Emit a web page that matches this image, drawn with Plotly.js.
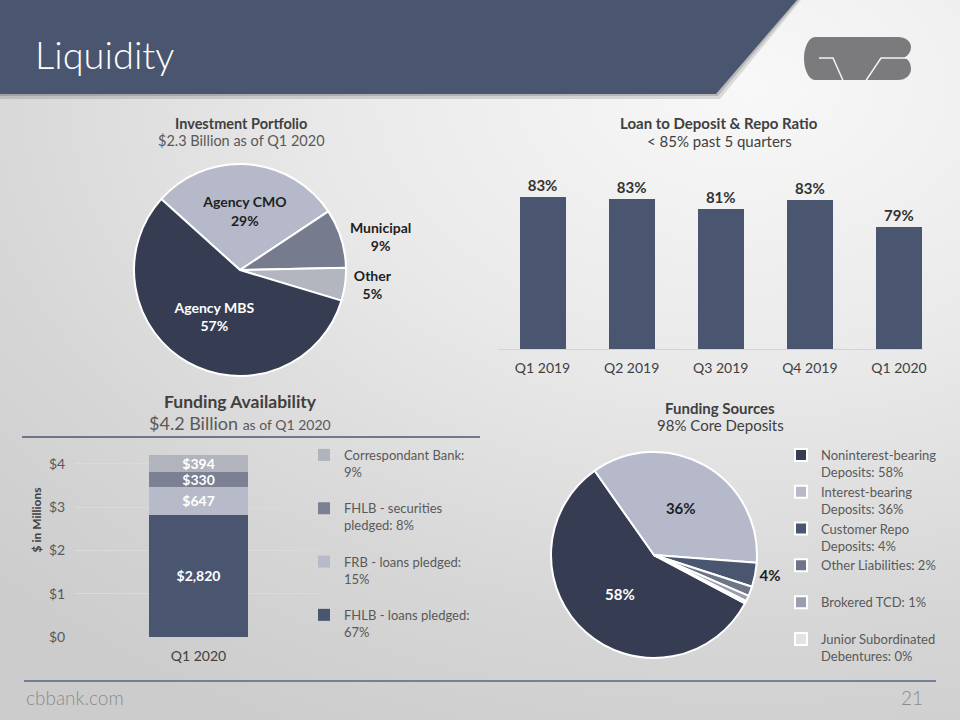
<!DOCTYPE html>
<html>
<head>
<meta charset="utf-8">
<script src="https://cdn.plot.ly/plotly-3.0.1.min.js"></script>
<style>
  html, body { margin: 0; padding: 0; }
  #chart {
    width: 960px; height: 720px;
    background: radial-gradient(ellipse 110% 100% at 78% 12%, #f8f8f8 0%, #e9e9e9 40%, #d6d6d6 75%, #cccccc 100%);
  }
</style>
</head>
<body>
<div id="chart"></div>
<script>
// ---------------- data ----------------
const invLabels = ["Agency CMO", "Municipal", "Other", "Agency MBS"];
const invValues = [29, 9, 5, 57];

const ratioQuarters = ["Q1 2019", "Q2 2019", "Q3 2019", "Q4 2019", "Q1 2020"];
const ratioValues = [83.0, 82.7, 81.4, 82.6, 79.0];

const fundCategory = ["Q1 2020"];
const fundLegendNames = ["FHLB - loans pledged:", "FRB - loans pledged:", "FHLB - securities<br>pledged:", "Correspondant Bank:"];
const fundValues = [2820, 647, 330, 394];
const fundTickVals = [0, 1000, 2000, 3000, 4000];
const fundTickText = ["$0", "$1", "$2", "$3", "$4"];

const srcNames = ["Noninterest-bearing<br>Deposits", "Interest-bearing<br>Deposits", "Customer Repo<br>Deposits", "Other Liabilities", "Brokered TCD", "Junior Subordinated<br>Debentures"];
const srcPct = [58, 36, 4, 2, 1, 0];
const srcValues = [57.8, 36.2, 3.8, 1.5, 0.9, 0.4];

// ---------------- styles ----------------
const FONT = "Lato, 'Open Sans', sans-serif";
const W = 960, H = 720;
const X = p => p / W;
const Y = p => 1 - p / H;
const path = pts => pts.map(s => s.replace(/(-?[\d.]+),(-?[\d.]+)/g, (m, a, b) => X(+a).toFixed(5) + "," + Y(+b).toFixed(5))).join(" ");

const invColors = ["#b6b9c9", "#767c8e", "#b3b6bf", "#363d52"];
const fundColors = ["#4a5670", "#b7bac9", "#7b8093", "#b1b4bd"];
const srcColors = ["#363d52", "#b6b9c9", "#4a5670", "#6f7588", "#9a9eac", "#e2e3e8"];

const traces = [];

// Investment portfolio pie
traces.push({
  type: "pie", labels: invLabels, values: invValues, sort: false,
  direction: "clockwise", rotation: -48,
  domain: { x: [X(134), X(346)], y: [Y(376), Y(164)] },
  marker: { colors: invColors, line: { color: "#ffffff", width: 2 } },
  textinfo: "label+percent",
  textposition: ["inside", "outside", "outside", "inside"],
  insidetextorientation: "horizontal",
  textfont: { family: FONT, size: 14, color: ["#1e1e1e", "#1e1e1e", "#1e1e1e", "#ffffff"], weight: "bold" },
  showlegend: false, hoverinfo: "skip"
});

// Loan to deposit bars
traces.push({
  type: "bar", x: ratioQuarters, y: ratioValues, xaxis: "x", yaxis: "y",
  marker: { color: "#4a5670" }, width: 0.516,
  texttemplate: "%{y:.0f}%", textposition: "outside", cliponaxis: false,
  textfont: { family: FONT, size: 15, color: "#333333", weight: "bold" },
  showlegend: false, hoverinfo: "skip"
});

// Funding availability stacked bar
const fundTotal = fundValues.reduce((a, b) => a + b, 0);
fundValues.forEach((v, i) => {
  const n = fundLegendNames[i];
  const pct = Math.round(v / fundTotal * 100);
  traces.push({
    type: "bar", x: fundCategory, y: [v], xaxis: "x2", yaxis: "y2", width: 0.4,
    name: n + (n.indexOf("<br>") >= 0 ? " " : "<br>") + pct + "%",
    legendgroup: "g" + i, legendrank: 1000 - i, legend: "legend",
    marker: { color: fundColors[i] },
    texttemplate: "$%{y:,}", textposition: "inside", insidetextanchor: "middle",
    constraintext: "none", textangle: 0,
    textfont: { family: FONT, size: 14, color: "#ffffff", weight: "bold" },
    hoverinfo: "skip"
  });
});

// Funding sources pie
traces.push({
  type: "pie", labels: srcNames.map((n, i) => n + ": " + srcPct[i] + "%" + (n.indexOf("<br>") >= 0 ? "" : "<br>&nbsp;")),
  values: srcValues, sort: false, direction: "clockwise", rotation: 118,
  domain: { x: [X(551), X(757)], y: [Y(658), Y(452)] },
  marker: { colors: srcColors, line: { color: "#ffffff", width: 2 } },
  text: srcPct.map((p, i) => i < 3 ? p + "%" : ""),
  textinfo: "text",
  textposition: ["inside", "inside", "outside", "none", "none", "none"],
  insidetextorientation: "horizontal",
  textfont: { family: FONT, size: 15, color: ["#ffffff", "#1e1e1e", "#1e1e1e", "#1e1e1e", "#1e1e1e", "#1e1e1e"], weight: "bold" },
  legend: "legend2", showlegend: true, hoverinfo: "skip"
});

// ---------------- decorations ----------------
const shapes = [
  { type: "path", xref: "paper", yref: "paper", layer: "below", line: { width: 0 }, fillcolor: "rgba(0,0,0,0.12)",
    path: path(["M0,0", "L801,0", "L720,99", "L0,99", "Z"]) },
  { type: "path", xref: "paper", yref: "paper", layer: "below", line: { width: 0 }, fillcolor: "rgba(0,0,0,0.15)",
    path: path(["M0,0", "L799,0", "L718,96", "L0,96", "Z"]) },
  { type: "path", xref: "paper", yref: "paper", layer: "below", line: { width: 0 }, fillcolor: "#4a5670",
    path: path(["M0,0", "L797,0", "L716,94", "L0,94", "Z"]) },
  // logo
  { type: "path", xref: "paper", yref: "paper", line: { width: 0 }, fillcolor: "#7b7b7d",
    path: path(["M815,37", "L898,37", "C905,37 911,41 911,47", "C911,52 908,56 904,57.5", "C908,59 911,63 911,69",
                "C911,75 906,80 898,80", "L815,80", "C809,80 804,70 804,58.5", "C804,47 809,37 815,37", "Z"]) },
  { type: "path", xref: "paper", yref: "paper", line: { color: "#f2f2f2", width: 1.5 },
    path: path(["M819,58", "L833,58", "L843,80.5"]) },
  { type: "path", xref: "paper", yref: "paper", line: { color: "#f2f2f2", width: 1.5 },
    path: path(["M866,80.5", "L881,58", "L908,58"]) },
  // funding availability underline
  { type: "line", xref: "paper", yref: "paper", x0: X(22), x1: X(480), y0: Y(437), y1: Y(437),
    line: { color: "#4a5670", width: 1.5 } },
  // footer line
  { type: "line", xref: "paper", yref: "paper", x0: X(24), x1: X(936), y0: Y(681), y1: Y(681),
    line: { color: "#5a6480", width: 1.5 } }
];

const ann = (text, x, y, size, opts = {}) => Object.assign({
  text, x: X(x), y: Y(y), xref: "paper", yref: "paper", showarrow: false,
  xanchor: "center", yanchor: "middle",
  font: { family: FONT, size, color: "#404040" }
}, opts);

const annotations = [
  ann("Liquidity", 33, 54, 38, { xanchor: "left", font: { family: FONT, size: 38, color: "#ffffff", weight: 300 } }),
  ann("<b>Investment Portfolio</b>", 241, 123, 14.5),
  ann("$2.3 Billion as of Q1 2020", 241, 141, 14.5, { font: { family: FONT, size: 14.5, color: "#595959" } }),
  ann("<b>Loan to Deposit & Repo Ratio</b>", 719, 123, 15),
  ann("< 85% past 5 quarters", 719, 141, 15),
  ann("<b>Funding Availability</b>", 240, 401, 17.5),
  ann("$4.2 Billion <span style='font-size:14px'>as of Q1 2020</span>", 240, 423, 18, { font: { family: FONT, size: 18, color: "#595959" } }),
  ann("<b>Funding Sources</b>", 720, 408, 15),
  ann("98% Core Deposits", 720, 425, 15),
  ann("cbbank.com", 24, 697, 19, { xanchor: "left", font: { family: FONT, size: 19, color: "#8c8c8c", weight: 300 } }),
  ann("21", 925, 697, 19, { xanchor: "right", font: { family: FONT, size: 19, color: "#8c8c8c", weight: 300 } })
];

const layout = {
  width: W, height: H, autosize: false,
  margin: { l: 0, r: 0, t: 0, b: 0, pad: 0 },
  paper_bgcolor: "rgba(0,0,0,0)", plot_bgcolor: "rgba(0,0,0,0)",
  font: { family: FONT, color: "#404040" },
  barmode: "stack",
  xaxis: {
    domain: [X(498), X(923)], range: [-0.5, 4.27], type: "category",
    showline: true, linecolor: "#d4d4d4", linewidth: 1, showgrid: false, zeroline: false,
    ticks: "outside", ticklen: 6, tickcolor: "rgba(0,0,0,0)",
    tickfont: { family: FONT, size: 14, color: "#404040" }, fixedrange: true
  },
  yaxis: {
    domain: [Y(349), Y(169)], range: [62.7, 86.7], visible: false, fixedrange: true
  },
  xaxis2: {
    domain: [X(75), X(322)], anchor: "y2", type: "category",
    showline: false, showgrid: false, zeroline: false,
    ticks: "outside", ticklen: 6, tickcolor: "rgba(0,0,0,0)",
    tickfont: { family: FONT, size: 14, color: "#404040" }, fixedrange: true
  },
  yaxis2: {
    domain: [Y(637), Y(403)], range: [0, 5400], anchor: "x2",
    tickvals: fundTickVals, ticktext: fundTickText,
    showgrid: true, gridcolor: "#dadada", gridwidth: 1, zeroline: false, showline: false,
    tickfont: { family: FONT, size: 14, color: "#595959" },
    ticks: "outside", ticklen: 6, tickcolor: "rgba(0,0,0,0)",
    title: { text: "<b>$ in Millions</b>", standoff: 4, font: { family: FONT, size: 12, color: "#404040" } },
    fixedrange: true
  },
  legend: {
    x: X(304), xanchor: "left", y: Y(440), yanchor: "top",
    bgcolor: "rgba(0,0,0,0)", font: { family: FONT, size: 13, color: "#595959" },
    traceorder: "grouped", tracegroupgap: 16.5, valign: "top", itemclick: false, itemdoubleclick: false
  },
  legend2: {
    x: X(781), xanchor: "left", y: Y(440), yanchor: "top",
    bgcolor: "rgba(0,0,0,0)", font: { family: FONT, size: 13, color: "#595959" },
    traceorder: "normal", valign: "top", itemclick: false, itemdoubleclick: false
  },
  shapes, annotations
};

Plotly.newPlot("chart", traces, layout, { displayModeBar: false, staticPlot: true });
</script>
</body>
</html>
